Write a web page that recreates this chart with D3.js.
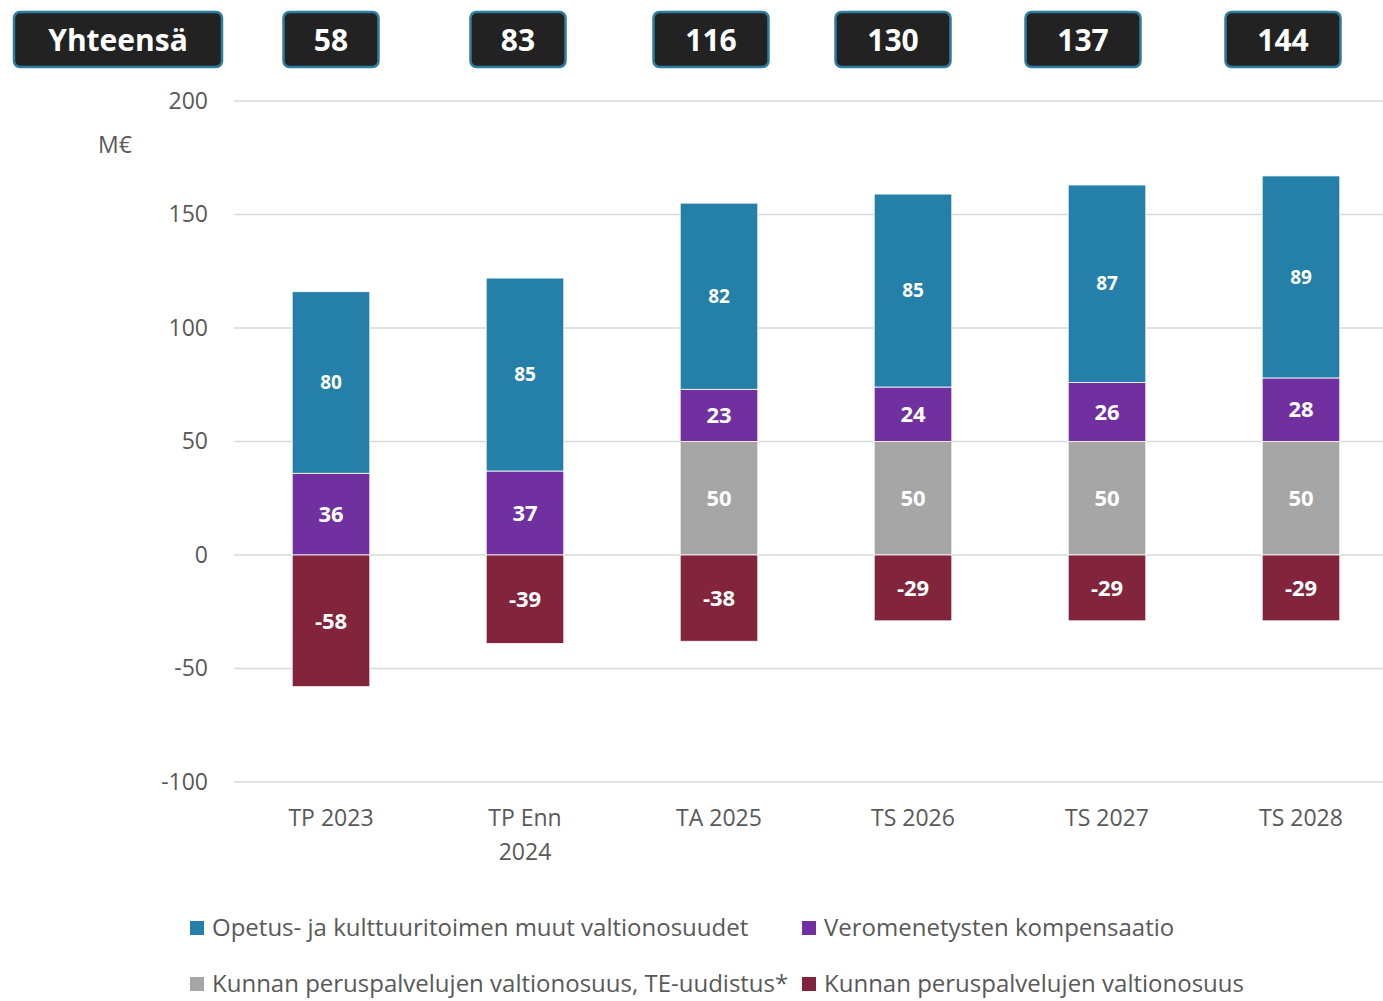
<!DOCTYPE html>
<html>
<head>
<meta charset="utf-8">
<script src="https://cdn.jsdelivr.net/npm/d3@7"></script>
<style>
  body { margin: 0; background: #fff; }
  svg { font-family: "Open Sans", sans-serif; }
</style>
</head>
<body>
<svg id="chart" width="1383" height="1001"></svg>
<script>
// data
const categories = ["TP 2023", "TP Enn 2024", "TA 2025", "TS 2026", "TS 2027", "TS 2028"];
const opetus = [80, 85, 82, 85, 87, 89];
const vero = [36, 37, 23, 24, 26, 28];
const teUudistus = [0, 0, 50, 50, 50, 50];
const peruspalvelut = [-58, -39, -38, -29, -29, -29];
const totals = [58, 83, 116, 130, 137, 144];
const yTicks = [-100, -50, 0, 50, 100, 150, 200];

const seriesNames = [
    "Opetus- ja kulttuuritoimen muut valtionosuudet",
    "Veromenetysten kompensaatio",
    "Kunnan peruspalvelujen valtionosuus, TE-uudistus*",
    "Kunnan peruspalvelujen valtionosuus"
];
const colors = ["#2480A8", "#7030A0", "#A6A6A6", "#82243C"];

// layout of the total boxes (they sit a bit left of the bars in the original)
const boxCenters = [118, 331, 518, 711, 893, 1083, 1283];

const svg = d3.select("#chart");

const x = d3.scaleBand().domain(categories).range([234, 1398]).paddingInner(0.6).paddingOuter(0.3);
const y = d3.scaleLinear().domain([-100, 200]).range([782, 101]);

// grid lines
svg.append("g").selectAll("line")
    .data(yTicks)
    .join("line")
    .attr("x1", 234).attr("x2", 1383)
    .attr("y1", d => y(d)).attr("y2", d => y(d))
    .attr("stroke", "#d9d9d9").attr("stroke-width", 1.5);

// y axis labels
const yAxis = d3.axisLeft(y).tickValues(yTicks).tickSize(0).tickPadding(0).tickFormat(d => String(d));
const yg = svg.append("g").attr("transform", "translate(208,0)").call(yAxis);
yg.select(".domain").remove();
yg.selectAll("text")
    .attr("fill", "#595959")
    .attr("font-size", 23)
    .attr("font-family", "Open Sans, sans-serif");

svg.append("text")
    .attr("x", 115).attr("y", 153)
    .attr("text-anchor", "middle")
    .attr("fill", "#595959").attr("font-size", 23)
    .text("M€");

// build segments: gray from 0, purple on top of gray, blue on top; red below 0
const segments = [];
categories.forEach((c, i) => {
    let base = 0;
    const stackUp = [
        { v: teUudistus[i], s: 2 },
        { v: vero[i], s: 1 },
        { v: opetus[i], s: 0 }
    ];
    stackUp.forEach(p => {
        if (p.v > 0) {
            segments.push({ cat: c, y0: base, y1: base + p.v, v: p.v, s: p.s });
            base += p.v;
        }
    });
    segments.push({ cat: c, y0: peruspalvelut[i], y1: 0, v: peruspalvelut[i], s: 3 });
});

const bars = svg.append("g");
bars.selectAll("rect")
    .data(segments)
    .join("rect")
    .attr("x", d => x(d.cat))
    .attr("width", x.bandwidth())
    .attr("y", d => y(d.y1))
    .attr("height", d => y(d.y0) - y(d.y1))
    .attr("fill", d => colors[d.s])
    .attr("stroke", "#ffffff").attr("stroke-width", 0.8);

bars.selectAll("text")
    .data(segments)
    .join("text")
    .attr("x", d => x(d.cat) + x.bandwidth() / 2)
    .attr("y", d => y((d.y0 + d.y1) / 2))
    .attr("dy", "0.35em")
    .attr("text-anchor", "middle")
    .attr("fill", "#fff")
    .attr("font-weight", 700)
    .attr("font-size", d => d.s === 0 ? 19 : 22)
    .text(d => d.v);

// category labels
const xg = svg.append("g");
categories.forEach(c => {
    const t = xg.append("text")
        .attr("x", x(c) + x.bandwidth() / 2)
        .attr("y", 826)
        .attr("text-anchor", "middle")
        .attr("fill", "#595959").attr("font-size", 23);
    if (c === "TP Enn 2024") {
        t.append("tspan").attr("x", x(c) + x.bandwidth() / 2).text("TP Enn");
        t.append("tspan").attr("x", x(c) + x.bandwidth() / 2).attr("dy", 34).text("2024");
    } else {
        t.text(c);
    }
});

// total boxes on top
const boxes = [{ label: "Yhteensä", w: 208 }].concat(
    totals.map(t => ({ label: String(t), w: t >= 100 ? 115 : 95 }))
);
const bg = svg.append("g");
boxes.forEach((b, i) => {
    const cx = boxCenters[i];
    bg.append("rect")
        .attr("x", cx - b.w / 2).attr("y", 12)
        .attr("width", b.w).attr("height", 55)
        .attr("rx", 6)
        .attr("fill", "#222222")
        .attr("stroke", "#2E7DA3").attr("stroke-width", 2.5);
    bg.append("text")
        .attr("x", cx).attr("y", 40)
        .attr("dy", "0.36em")
        .attr("text-anchor", "middle")
        .attr("fill", "#fff").attr("font-weight", 700)
        .attr("font-size", 30)
        .text(b.label);
});

// legend
const legendPos = [
    { x: 190, y: 928 }, { x: 802, y: 928 },
    { x: 190, y: 984 }, { x: 802, y: 984 }
];
const lg = svg.append("g");
seriesNames.forEach((n, i) => {
    const p = legendPos[i];
    lg.append("rect")
        .attr("x", p.x).attr("y", p.y - 7)
        .attr("width", 14).attr("height", 14)
        .attr("fill", colors[i]);
    lg.append("text")
        .attr("x", p.x + 22).attr("y", p.y)
        .attr("dy", "0.35em")
        .attr("fill", "#595959").attr("font-size", 24)
        .text(n);
});
</script>
</body>
</html>
